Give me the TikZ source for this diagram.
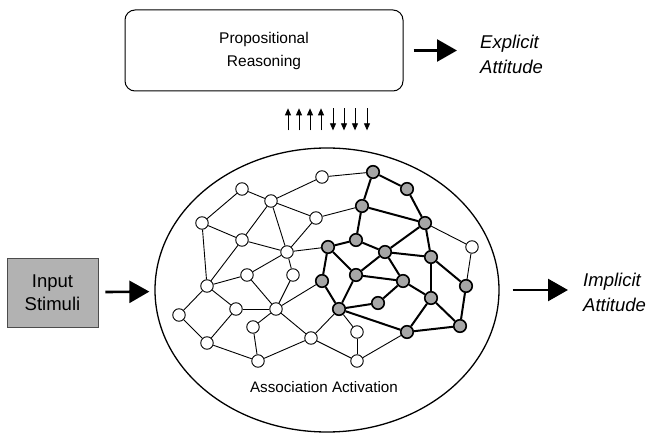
\documentclass[tikz,border=0pt]{standalone}
\usepackage{fontspec}
\setmainfont{Liberation Sans}
\usetikzlibrary{arrows.meta,shapes.geometric}

\tikzset{
  wnode/.style={circle, draw=black, fill=white, line width=0.9pt, minimum size=12.5pt, inner sep=0pt},
  gnode/.style={circle, draw=black, fill=black!35, line width=1.6pt, minimum size=12.5pt, inner sep=0pt},
  thinlink/.style={line width=0.9pt},
  thicklink/.style={line width=2pt},
  bigarrow/.style={-{Triangle[length=20pt,width=22pt]}, line width=2.6pt},
  smallarrow/.style={-{Triangle[length=7pt,width=6pt]}, line width=0.8pt},
  sidelabel/.style={align=left, font=\fontsize{18.5}{25}\selectfont\itshape, inner sep=0pt}
}

\begin{document}
\begin{tikzpicture}[x=1pt, y=-1pt]
\useasboundingbox (0,0) rectangle (649,433);

% Oben - Propositional Reasoning
\node (reasoning) [rectangle, rounded corners=10pt, draw=black, line width=1pt, minimum width=278pt, minimum height=81pt, align=center, font=\fontsize{15.5}{23}\selectfont] at (264,50.5) {Propositional\\Reasoning};
\node (explicit) [sidelabel, anchor=west] at (480,54) {Explicit\\Attitude};

% Mitte - Assoziationen
\node (assoc) [ellipse, draw=black, line width=1.3pt, minimum width=344pt, minimum height=284pt] at (327,290) {};
\node (assoclabel) [font=\fontsize{15.2}{18}\selectfont] at (324,387) {Association Activation};

\node (input) [rectangle, draw=black!70, fill=black!30, line width=0.8pt, minimum width=91pt, minimum height=69pt, align=center, font=\fontsize{18.5}{23}\selectfont] at (52.5,292.5) {Input\\Stimuli};
\node (implicit) [sidelabel, anchor=west] at (583,292) {Implicit\\Attitude};

% Netz - weisse Knoten
\foreach \n/\x/\y in {w1/322/177, w2/242/189, w3/271/201, w4/202/223, w5/316/218,
  w6/242/240, w7/287/252, w8/247/275, w9/293/275, w10/207/286, w11/179/315,
  w12/236/309, w13/276/309, w14/253/327, w15/207/343, w16/311/338, w17/258/361,
  w18/472/247, w19/357/332, w20/357/361}
  \node (\n) [wnode] at (\x,\y) {};

% Netz - graue Knoten
\foreach \n/\x/\y in {g1/373/172, g2/407/189, g3/362/206, g4/425/223, g5/328/247,
  g6/356/240, g7/385/252, g8/431/257, g9/322/281, g10/356/275, g11/403/281,
  g12/466/286, g13/339/309, g14/378/303, g15/431/298, g16/460/326, g17/407/332}
  \node (\n) [gnode] at (\x,\y) {};

% Verbindungen
\foreach \a/\b in {w2/w4, w2/w3, w3/w1, w3/w5, w3/w6, w3/w7, w4/w6, w4/w10, w6/w7,
  w6/w10, w5/w7, w7/w8, w7/w9, w8/w10, w10/w11, w10/w12, w8/w13, w9/w13, w12/w13,
  w12/w15, w11/w15, w13/w14, w13/w16, w14/w17, w15/w17, w16/w17, w16/w20, w19/w20,
  w1/g1, w5/g3, w7/g5, w18/g4, w18/g12, w13/g9, w16/g13, w19/g13, w20/g17}
  \draw[thinlink] (\a) -- (\b);
\foreach \a/\b in {g1/g2, g1/g3, g2/g4, g3/g4, g3/g6, g5/g6, g6/g7, g7/g4, g7/g8,
  g4/g8, g8/g12, g8/g15, g5/g9, g5/g10, g10/g7, g7/g11, g10/g11, g9/g13, g10/g13,
  g13/g14, g14/g11, g11/g15, g15/g16, g12/g16, g13/g17, g17/g15, g17/g16}
  \draw[thicklink] (\a) -- (\b);

% Pfeile
\draw[bigarrow, shorten <=10pt, shorten >=23pt] (reasoning.east) -- (explicit.west |- reasoning.east);
\draw[bigarrow, shorten <=7pt, shorten >=5pt] (input) -- (assoc);
\draw[bigarrow, shorten <=13pt, shorten >=15pt] (assoc.east) -- (implicit.west |- assoc.east);

\foreach \d in {-39,-28,-17,-6}
  \draw[smallarrow] ([shift={(\d,-17)}]assoc.north) -- ++(0,-22);
\foreach \d in {6,17,28,40}
  \draw[smallarrow] ([shift={(\d,-39)}]assoc.north) -- ++(0,22);

\end{tikzpicture}
\end{document}
